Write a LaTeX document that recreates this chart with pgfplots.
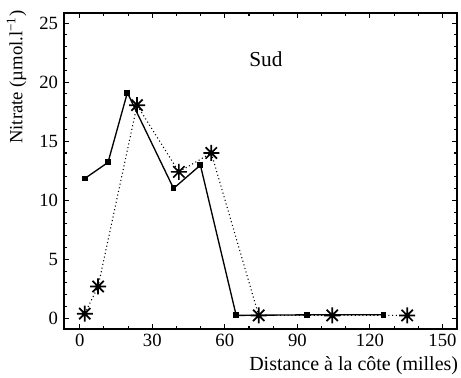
\documentclass[border=0pt]{standalone}
\usepackage{fontspec}
\setmainfont{Liberation Serif}
\usepackage{pgfplots}
\pgfplotsset{compat=1.18}
\pgfdeclareplotmark{star8}{%
  \pgfpathmoveto{\pgfqpoint{-\pgfplotmarksize}{0pt}}%
  \pgfpathlineto{\pgfqpoint{\pgfplotmarksize}{0pt}}%
  \pgfpathmoveto{\pgfqpoint{0pt}{-\pgfplotmarksize}}%
  \pgfpathlineto{\pgfqpoint{0pt}{\pgfplotmarksize}}%
  \pgfpathmoveto{\pgfqpoint{-0.707\pgfplotmarksize}{-0.707\pgfplotmarksize}}%
  \pgfpathlineto{\pgfqpoint{0.707\pgfplotmarksize}{0.707\pgfplotmarksize}}%
  \pgfpathmoveto{\pgfqpoint{-0.707\pgfplotmarksize}{0.707\pgfplotmarksize}}%
  \pgfpathlineto{\pgfqpoint{0.707\pgfplotmarksize}{-0.707\pgfplotmarksize}}%
  \pgfusepathqstroke}
\begin{document}
\begin{tikzpicture}
\begin{axis}[
  name=ax,
  scale only axis,
  width=294.75pt, height=237pt,
  xmin=-6.5, xmax=156,
  ymin=-0.9, ymax=25.85,
  xtick={0,30,60,90,120,150},
  ytick={0,5,10,15,20,25},
  minor x tick num=2,
  minor y tick num=4,
  tick align=inside,
  major tick length=4pt,
  minor tick length=2.5pt,
  tick style={black, line width=0.8pt},
  axis line style={line width=0.8pt},
  xticklabel style={yshift=0pt},
  yticklabel style={xshift=-1pt},
  tick label style={font=\fontsize{14}{16}\selectfont},
  /pgf/number format/assume math mode=true,
  clip=false,
]
\addplot[black, dotted, line width=0.8pt, mark=star8, mark size=6pt,
  mark options={solid, line width=1.3pt}]
  coordinates {(2.1,0.4) (7.6,2.7) (23.7,18.05) (41.0,12.4) (54.4,14.0) (74.0,0.25) (104.4,0.25) (135.4,0.25)};
\addplot[black, solid, line width=1pt, mark=square*, mark size=1.7pt]
  coordinates {(2.1,11.84) (11.7,13.2) (19.7,19.1) (38.8,11.0) (49.9,12.97) (64.7,0.25) (93.9,0.3) (125.6,0.3)};
\node[font=\fontsize{16}{19}\selectfont] at (axis cs:77,21.9) {Sud};
\end{axis}
\node[rotate=90, anchor=south east, inner sep=0pt, font=\fontsize{14}{16}\selectfont]
  at ([xshift=-28pt,yshift=2pt]ax.north west) {Nitrate (µmol.l\textsuperscript{−1})};
\node[anchor=base east, inner sep=0pt, font=\fontsize{15}{18}\selectfont]
  at ([xshift=1pt,yshift=-31pt]ax.south east) {Distance à la côte (milles)};
\pgfresetboundingbox
\path[use as bounding box] ([xshift=-48pt,yshift=-36.75pt]ax.south west) rectangle ([xshift=3pt,yshift=9.75pt]ax.north east);
\end{tikzpicture}
\end{document}
